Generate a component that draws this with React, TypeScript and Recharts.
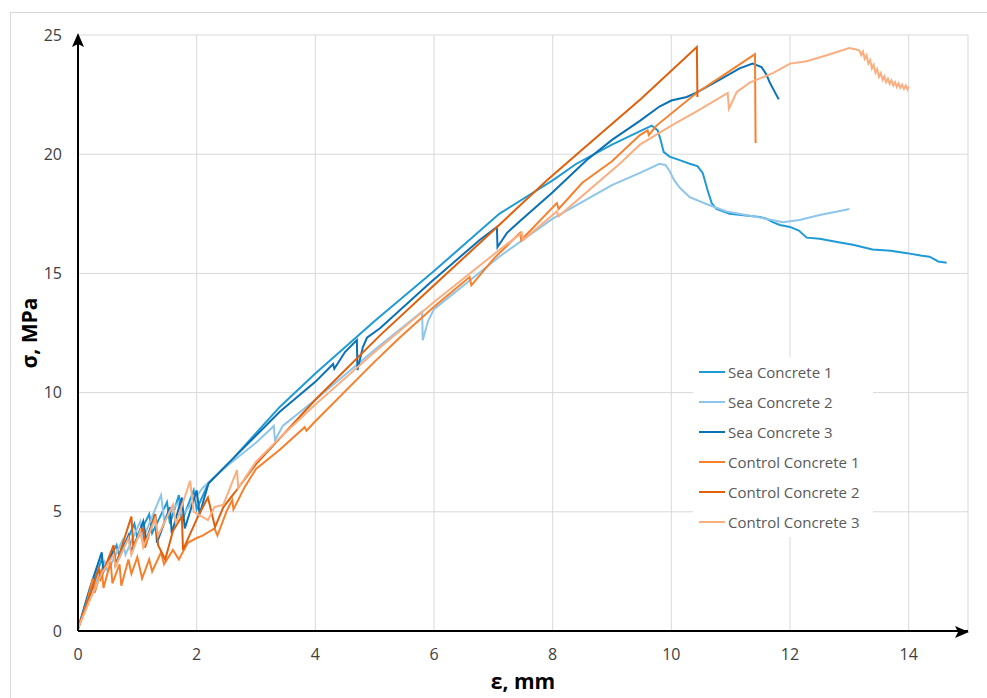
import { CartesianGrid, Label, Legend, Line, LineChart, XAxis, YAxis } from "recharts"

// strain (mm) / stress (MPa) pairs
const seaConcrete1: [number, number][] = [
  [0, 0.1], [0.2, 1.6], [0.4, 3.0], [0.45, 2.6], [0.65, 3.6], [0.7, 3.1], [0.95, 4.5], [1.0, 3.9],
  [1.2, 4.9], [1.25, 4.1], [1.5, 5.4], [1.55, 4.5], [1.7, 5.7], [1.75, 4.6], [1.95, 5.9], [2.0, 5.1],
  [2.2, 6.2], [2.6, 7.2], [3.0, 8.3], [3.4, 9.4], [4.0, 10.8], [5.0, 13.0], [6.0, 15.1], [7.1, 17.5],
  [8.0, 18.9], [8.4, 19.6], [9.0, 20.4], [9.5, 21.0], [9.67, 21.2], [9.77, 21.0], [9.82, 20.6],
  [9.87, 20.1], [9.97, 19.9], [10.14, 19.75], [10.31, 19.6], [10.44, 19.5], [10.53, 19.2],
  [10.61, 18.5], [10.68, 17.95], [10.76, 17.7], [10.98, 17.5], [11.49, 17.37], [11.6, 17.3],
  [11.71, 17.15], [11.83, 17.03], [12.0, 16.95], [12.15, 16.8], [12.28, 16.5], [12.5, 16.45],
  [12.84, 16.3], [13.06, 16.2], [13.39, 16.0], [13.7, 15.95], [13.97, 15.85], [14.2, 15.75],
  [14.35, 15.7], [14.5, 15.5], [14.64, 15.45],
]

const seaConcrete2: [number, number][] = [
  [0, 0.1], [0.2, 1.4], [0.45, 2.9], [0.5, 2.5], [0.75, 3.8], [0.8, 3.2], [1.05, 4.6], [1.1, 3.9],
  [1.4, 5.7], [1.45, 4.7], [1.7, 5.4], [1.75, 4.8], [2.1, 6.0], [2.5, 6.9], [3.0, 7.9], [3.3, 8.6],
  [3.32, 8.0], [3.45, 8.6], [4.0, 9.7], [5.0, 11.8], [5.8, 13.4], [5.81, 12.2], [5.9, 13.0],
  [6.0, 13.5], [7.1, 15.7], [8.0, 17.3], [9.0, 18.7], [9.5, 19.25], [9.8, 19.6], [9.9, 19.55],
  [9.97, 19.3], [10.05, 18.9], [10.14, 18.6], [10.31, 18.2], [10.6, 17.9], [10.93, 17.6],
  [11.44, 17.37], [11.88, 17.15], [12.16, 17.24], [12.5, 17.45], [12.8, 17.6], [13.0, 17.7],
]

const seaConcrete3: [number, number][] = [
  [0, 0.1], [0.2, 1.8], [0.4, 3.3], [0.43, 2.5], [0.6, 3.4], [0.63, 2.8], [0.85, 4.0], [0.9, 3.3],
  [1.1, 4.6], [1.15, 3.8], [1.3, 4.9], [1.33, 3.7], [1.55, 5.2], [1.58, 4.1], [1.75, 5.6], [1.8, 4.3],
  [2.0, 5.9], [2.05, 4.9], [2.2, 6.2], [2.6, 7.2], [3.0, 8.2], [3.4, 9.2], [4.0, 10.45], [4.3, 11.2],
  [4.32, 11.0], [4.5, 11.7], [4.7, 12.2], [4.71, 10.95], [4.8, 11.9], [4.87, 12.3], [5.09, 12.7],
  [5.93, 14.6], [6.77, 16.4], [7.06, 16.95], [7.07, 16.1], [7.15, 16.4], [7.23, 16.7], [7.45, 17.2],
  [8.0, 18.4], [8.57, 19.75], [9.0, 20.6], [9.47, 21.4], [9.8, 22.0], [10.0, 22.25], [10.26, 22.4],
  [10.44, 22.6], [10.87, 23.2], [11.15, 23.6], [11.37, 23.8], [11.52, 23.66], [11.6, 23.35],
  [11.66, 23.0], [11.81, 22.3],
]

const controlConcrete1: [number, number][] = [
  [0, 0.1], [0.15, 1.2], [0.25, 2.2], [0.28, 1.6], [0.4, 2.6], [0.43, 1.8], [0.55, 2.9], [0.58, 2.0],
  [0.7, 2.8], [0.73, 1.9], [0.85, 3.0], [0.9, 2.4], [1.0, 3.1], [1.08, 2.2], [1.2, 3.0], [1.25, 2.5],
  [1.4, 3.3], [1.45, 2.8], [1.6, 3.4], [1.7, 3.0], [1.85, 3.7], [2.0, 3.9], [2.1, 4.0], [2.3, 4.3],
  [2.35, 4.0], [2.5, 5.0], [2.6, 5.5], [2.62, 5.1], [2.8, 6.0], [3.0, 6.8], [3.4, 7.6], [3.82, 8.55],
  [3.85, 8.4], [4.0, 8.8], [5.0, 11.3], [5.42, 12.3], [6.0, 13.6], [6.6, 14.85], [6.63, 14.5],
  [7.0, 15.6], [7.45, 16.7], [7.47, 16.4], [8.07, 17.95], [8.1, 17.7], [8.5, 18.8], [9.0, 19.7],
  [9.47, 20.8], [9.6, 21.0], [9.62, 20.8], [9.75, 21.2], [10.44, 22.6], [10.81, 23.2], [11.41, 24.2],
  [11.42, 20.47],
]

const controlConcrete2: [number, number][] = [
  [0, 0.1], [0.2, 1.5], [0.35, 2.6], [0.38, 2.2], [0.6, 3.6], [0.63, 2.7], [0.9, 4.8], [0.93, 3.6],
  [1.1, 4.3], [1.13, 3.5], [1.3, 4.9], [1.35, 3.6], [1.47, 3.0], [1.6, 4.2], [1.75, 4.8], [1.77, 3.4],
  [2.02, 4.8], [2.19, 5.6], [2.31, 4.36], [2.45, 5.2], [2.64, 5.8], [3.0, 7.0], [4.0, 9.7],
  [5.09, 12.4], [6.0, 14.5], [7.0, 16.8], [7.9, 18.9], [8.5, 20.2], [9.5, 22.35], [10.43, 24.5],
  [10.44, 22.4],
]

const controlConcrete3: [number, number][] = [
  [0, 0.1], [0.2, 1.3], [0.4, 2.4], [0.6, 3.2], [0.63, 2.7], [0.85, 3.9], [0.9, 3.2], [1.05, 4.2],
  [1.1, 3.5], [1.3, 4.7], [1.35, 4.0], [1.6, 5.3], [1.65, 4.5], [1.89, 6.3], [1.95, 5.0], [2.19, 4.65],
  [2.3, 5.2], [2.45, 5.3], [2.68, 6.75], [2.7, 6.0], [3.0, 7.1], [3.4, 8.1], [4.0, 9.5], [5.0, 11.7],
  [6.0, 13.8], [7.11, 16.0], [7.48, 16.7], [7.5, 16.4], [8.07, 17.6], [8.1, 17.4], [9.13, 19.6],
  [9.47, 20.4], [10.0, 21.2], [10.5, 21.9], [10.95, 22.57], [10.97, 21.9], [11.1, 22.6], [11.32, 23.0],
  [11.71, 23.4], [12.0, 23.8], [12.28, 23.9], [12.62, 24.15], [13.0, 24.45], [13.1, 24.4],
  [13.17, 24.35], [13.2, 24.15], [13.23, 24.3], [13.26, 24.0], [13.29, 24.15], [13.32, 23.8],
  [13.35, 23.95], [13.38, 23.6], [13.41, 23.75], [13.44, 23.42], [13.47, 23.57], [13.5, 23.25],
  [13.53, 23.4], [13.56, 23.12], [13.59, 23.27], [13.62, 23.02], [13.65, 23.17], [13.68, 22.95],
  [13.71, 23.1], [13.74, 22.88], [13.77, 23.02], [13.8, 22.82], [13.83, 22.97], [13.86, 22.78],
  [13.89, 22.92], [13.92, 22.74], [13.95, 22.88], [13.98, 22.72], [14.0, 22.85],
]

const xTicks = [0, 2, 4, 6, 8, 10, 12, 14]
const yTicks = [0, 5, 10, 15, 20, 25]

const series = [
  { name: "Sea Concrete 1", points: seaConcrete1, color: "#1f9ad6" },
  { name: "Sea Concrete 2", points: seaConcrete2, color: "#8ec5ea" },
  { name: "Sea Concrete 3", points: seaConcrete3, color: "#0b71b5" },
  { name: "Control Concrete 1", points: controlConcrete1, color: "#f7802d" },
  { name: "Control Concrete 2", points: controlConcrete2, color: "#e0600b" },
  { name: "Control Concrete 3", points: controlConcrete3, color: "#fbae80" },
]

const font = "'Open Sans', sans-serif"

function LegendBox(props: any) {
  const order = (name: string) => series.findIndex((s) => s.name === name)
  const items = [...(props.payload || [])].sort((a: any, b: any) => order(a.value) - order(b.value))
  return (
    <div style={{ background: "#fff", width: 180, fontFamily: font, fontSize: 15, color: "#595959" }}>
      {items.map((item: any) => (
        <div key={item.value} style={{ display: "flex", alignItems: "center", height: 30 }}>
          <span style={{ display: "inline-block", width: 26, height: 2, background: item.color, marginLeft: 6, marginRight: 3 }} />
          <span>{item.value}</span>
        </div>
      ))}
    </div>
  )
}

export default function App() {
  return (
    <div style={{ position: "absolute", left: 0, top: 0, width: 987, height: 698, background: "#fff", overflow: "hidden" }}>
      <div style={{ position: "absolute", left: 10, top: 12, width: 1000, height: 720, border: "1px solid #d9d9d9" }} />
      <LineChart width={987} height={698} margin={{ top: 35, right: 19, bottom: 37, left: 28 }}>
        <CartesianGrid stroke="#d9d9d9" vertical horizontal />
        <XAxis
          dataKey="x"
          type="number"
          domain={[0, 15]}
          ticks={xTicks}
          allowDataOverflow
          height={30}
          tickSize={0}
          tickMargin={18}
          tick={{ fill: "#404040", fontSize: 16, fontFamily: font }}
          axisLine={{ stroke: "#000", strokeWidth: 2 }}
        >
          <Label value="ε, mm" position="bottom" offset={13} style={{ fill: "#000", fontWeight: 700, fontSize: 21, fontFamily: font }} />
        </XAxis>
        <YAxis
          type="number"
          domain={[0, 25]}
          ticks={yTicks}
          width={50}
          tickSize={0}
          tickMargin={16}
          tick={{ fill: "#404040", fontSize: 16, fontFamily: font }}
          axisLine={{ stroke: "#000", strokeWidth: 2 }}
        >
          <Label value="σ, MPa" angle={-90} position="insideLeft" offset={2} style={{ textAnchor: "middle", fill: "#000", fontWeight: 700, fontSize: 21, fontFamily: font }} />
        </YAxis>
        <Legend
          layout="vertical"
          align="center"
          verticalAlign="middle"
          content={<LegendBox />}
          wrapperStyle={{ left: 693, top: 357, width: 180 }}
        />
        {series.map((s) => (
          <Line
            key={s.name}
            name={s.name}
            data={s.points.map(([x, y]) => ({ x, y }))}
            dataKey="y"
            stroke={s.color}
            strokeWidth={2}
            dot={false}
            activeDot={false}
            isAnimationActive={false}
          />
        ))}
      </LineChart>
      <svg width={987} height={698} style={{ position: "absolute", left: 0, top: 0, pointerEvents: "none" }}>
        <polygon points="78,33 72,47 78,44 84,47" fill="#000" />
        <polygon points="969,632 955,626 958,632 955,638" fill="#000" />
      </svg>
    </div>
  )
}
